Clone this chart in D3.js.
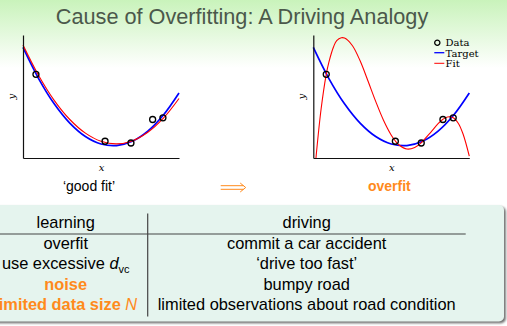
<!DOCTYPE html>
<html>
<head>
<meta charset="utf-8">
<script src="https://cdn.jsdelivr.net/npm/d3@7"></script>
<style>
  html, body { margin: 0; padding: 0; background: #fff; overflow: hidden; }
</style>
</head>
<body>
<div id="chart"></div>
<script>
// Data (x and y in the plots' own 0..1 units)
const dataX = [0.083, 0.526, 0.692, 0.831, 0.897];
const dataY = [0.680, 0.136, 0.122, 0.313, 0.327];

const curveX = [0, 0.1, 0.2, 0.3, 0.4, 0.5, 0.6, 0.7, 0.8, 0.9, 1.0];
const targetY = [0.899, 0.646, 0.441, 0.284, 0.175, 0.114, 0.101, 0.136, 0.219, 0.350, 0.529];
const goodFitY = [0.918, 0.671, 0.469, 0.313, 0.202, 0.136, 0.115, 0.139, 0.209, 0.324, 0.484];

const overfitX = [0.017, 0.05, 0.083, 0.1, 0.13, 0.15, 0.18, 0.2, 0.25, 0.3, 0.35, 0.4, 0.45,
                  0.5, 0.526, 0.55, 0.6, 0.65, 0.692, 0.75, 0.8, 0.831, 0.86, 0.897, 0.93, 0.96, 1.0];
const overfitY = [0, 0.398, 0.680, 0.780, 0.905, 0.955, 0.978, 0.975, 0.915, 0.790, 0.628, 0.460, 0.307,
                  0.185, 0.138, 0.106, 0.073, 0.085, 0.124, 0.205, 0.279, 0.315, 0.334, 0.328, 0.281, 0.195, 0.015];

const legendLabels = ["Data", "Target", "Fit"];
const captions = ["\u2018good fit\u2019", "overfit"];

const tableHeader = ["learning", "driving"];
const learningCol = [
    [{ t: "overfit" }],
    [{ t: "use excessive " }, { t: "d", it: true }, { t: "VC", sub: true }],
    [{ t: "noise" }],
    [{ t: "limited data size " }, { t: "N", it: true }]
];
const drivingCol = [
    "commit a car accident",
    "\u2018drive too fast\u2019",
    "bumpy road",
    "limited observations about road condition"
];
const orangeRows = [2, 3];

const title = "Cause of Overfitting: A Driving Analogy";

// Layout
const width = 507, height = 326;
const plotW = 156, plotH = 123, plotTop = 35;
const plotLefts = [23, 313.3];
const orange = "#ff8a1c";

const svg = d3.select("#chart").append("svg")
    .attr("width", width)
    .attr("height", height)
    .style("display", "block");

const defs = svg.append("defs");
const grad = defs.append("linearGradient")
    .attr("id", "bg").attr("x1", 0).attr("y1", 0).attr("x2", 0).attr("y2", 1);
grad.append("stop").attr("offset", "0%").attr("stop-color", "#c9f3bb");
grad.append("stop").attr("offset", "100%").attr("stop-color", "#ffffff");

const blur = defs.append("filter").attr("id", "shadow")
    .attr("x", "-5%").attr("y", "-5%").attr("width", "110%").attr("height", "110%");
blur.append("feGaussianBlur").attr("stdDeviation", 1);

// Background band + title
svg.append("rect").attr("width", width).attr("height", height).attr("fill", "#fff");
svg.append("rect").attr("width", width).attr("height", 68).attr("fill", "url(#bg)");

svg.append("text")
    .attr("x", 242).attr("y", 23.5)
    .attr("text-anchor", "middle")
    .attr("font-family", "'Liberation Sans', Arial, sans-serif")
    .attr("font-size", 21.7)
    .attr("fill", "#4b584b")
    .text(title);

// Scales
const xs = d3.scaleLinear().domain([0, 1]).range([0, plotW]);
const ys = d3.scaleLinear().domain([0, 1]).range([plotH, 0]);
const line = d3.line()
    .x(d => xs(d[0]))
    .y(d => ys(d[1]))
    .curve(d3.curveCatmullRom.alpha(0.5));

const points = dataX.map((x, i) => [x, dataY[i]]);
const target = curveX.map((x, i) => [x, targetY[i]]);
const goodFit = curveX.map((x, i) => [x, goodFitY[i]]);
const overfit = overfitX.map((x, i) => [x, overfitY[i]]);

function drawPlot(left, fit, withLegend) {
    const g = svg.append("g").attr("transform", `translate(${left},${plotTop})`);

    g.append("path").datum(target)
        .attr("d", line).attr("fill", "none")
        .attr("stroke", "#0000ff").attr("stroke-width", 1.7);
    g.append("path").datum(fit)
        .attr("d", line).attr("fill", "none")
        .attr("stroke", "#ff0000").attr("stroke-width", 1.1);

    g.selectAll("circle.pt").data(points).join("circle")
        .attr("class", "pt")
        .attr("cx", d => xs(d[0])).attr("cy", d => ys(d[1]))
        .attr("r", 3)
        .attr("fill", "none").attr("stroke", "#000").attr("stroke-width", 1.3);

    // axes: lines only, no ticks
    const ax = g.append("g").attr("transform", `translate(0,${plotH})`)
        .call(d3.axisBottom(xs).tickValues([]).tickSizeOuter(0));
    const ay = g.append("g")
        .call(d3.axisLeft(ys).tickValues([]).tickSizeOuter(0));
    [ax, ay].forEach(a => a.select(".domain").attr("stroke", "#111").attr("stroke-width", 1.2));

    g.append("text")
        .attr("x", plotW / 2 + 0.5).attr("y", plotH + 12.5)
        .attr("text-anchor", "middle")
        .attr("font-family", "'DejaVu Serif', serif").attr("font-style", "italic")
        .attr("font-size", 10)
        .text("x");
    g.append("text")
        .attr("transform", `translate(-8.5,${61.7}) rotate(-90)`)
        .attr("text-anchor", "middle")
        .attr("font-family", "'DejaVu Serif', serif").attr("font-style", "italic")
        .attr("font-size", 10)
        .text("y");

    if (withLegend) {
        const lg = g.append("g").attr("transform", `translate(${437.3 - left},${7.7})`);
        lg.append("circle").attr("r", 2.6)
            .attr("fill", "none").attr("stroke", "#000").attr("stroke-width", 1.3);
        lg.append("line").attr("x1", -3).attr("x2", 7).attr("y1", 10).attr("y2", 10)
            .attr("stroke", "#0000ff").attr("stroke-width", 1.3);
        lg.append("line").attr("x1", -3).attr("x2", 7).attr("y1", 20.6).attr("y2", 20.6)
            .attr("stroke", "#ff0000").attr("stroke-width", 1);
        lg.selectAll("text").data(legendLabels).join("text")
            .attr("x", 8.3).attr("y", (d, i) => 3.6 + i * 10.4)
            .attr("font-family", "'DejaVu Serif', serif")
            .attr("font-size", 10)
            .text(d => d);
    }
    return g;
}

drawPlot(plotLefts[0], goodFit, false);
drawPlot(plotLefts[1], overfit, true);

// Captions under the plots
svg.append("text")
    .attr("x", 89).attr("y", 190.5)
    .attr("text-anchor", "middle")
    .attr("font-family", "'Liberation Sans', Arial, sans-serif")
    .attr("font-size", 14)
    .text(captions[0]);
svg.append("text")
    .attr("x", 389.3).attr("y", 190.5)
    .attr("text-anchor", "middle")
    .attr("font-family", "'Liberation Sans', Arial, sans-serif")
    .attr("font-size", 14).attr("font-weight", "bold")
    .attr("fill", orange)
    .text(captions[1]);

// Double arrow
const arrow = svg.append("g").attr("stroke", orange).attr("stroke-width", 1).attr("fill", "none");
arrow.append("path").attr("d", "M220.7,185.7H243.5M220.7,189.3H243.5");
arrow.append("path").attr("d", "M240.2,183L245.7,187.5L240.2,192");

// Table box
const box = { x: -10, y: 205, w: 514, h: 116.5 };
svg.append("rect")
    .attr("x", box.x + 1.8).attr("y", box.y + 1.8)
    .attr("width", box.w).attr("height", box.h).attr("rx", 5)
    .attr("fill", "#6e6e6e").attr("filter", "url(#shadow)");
svg.append("rect")
    .attr("x", box.x).attr("y", box.y)
    .attr("width", box.w).attr("height", box.h).attr("rx", 5)
    .attr("fill", "#e5f4ee");

const colX = [65.7, 306.7];
const headerY = 228;
const rowY = [249, 269.3, 289.6, 310];
const tableFont = "'Liberation Sans', Arial, sans-serif";
const tableSize = 16.4;

svg.append("line")
    .attr("x1", 0).attr("x2", 465.7).attr("y1", 234).attr("y2", 234)
    .attr("stroke", "#444").attr("stroke-width", 1.2);
svg.append("line")
    .attr("x1", 147.7).attr("x2", 147.7).attr("y1", 213.5).attr("y2", 316.5)
    .attr("stroke", "#444").attr("stroke-width", 1.2);

svg.selectAll("text.hdr").data(tableHeader).join("text")
    .attr("class", "hdr")
    .attr("x", (d, i) => colX[i]).attr("y", headerY)
    .attr("text-anchor", "middle")
    .attr("font-family", tableFont).attr("font-size", tableSize)
    .text(d => d);

learningCol.forEach((segs, i) => {
    const hi = orangeRows.includes(i);
    const t = svg.append("text")
        .attr("x", colX[0]).attr("y", rowY[i])
        .attr("text-anchor", "middle")
        .attr("font-family", tableFont).attr("font-size", tableSize)
        .attr("font-weight", hi ? "bold" : null)
        .attr("fill", hi ? orange : "#000");
    segs.forEach(s => {
        const sp = t.append("tspan").text(s.sub ? s.t.toLowerCase() : s.t);
        if (s.it) sp.attr("font-style", "italic").attr("font-weight", "normal");
        if (s.sub) sp.attr("font-size", 11).attr("dy", 3.5);
    });
});

svg.selectAll("text.drv").data(drivingCol).join("text")
    .attr("class", "drv")
    .attr("x", colX[1]).attr("y", (d, i) => rowY[i])
    .attr("text-anchor", "middle")
    .attr("font-family", tableFont).attr("font-size", tableSize)
    .text(d => d);
</script>
</body>
</html>
